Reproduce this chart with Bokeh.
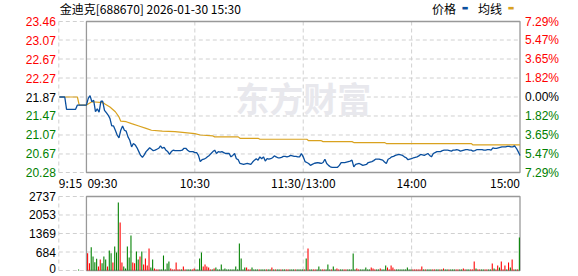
from bokeh.plotting import figure
from bokeh.models import Range1d, Label, ColumnDataSource
from bokeh.embed import file_html
from bokeh.resources import INLINE

TITLE = "金迪克[688670] 2026-01-30 15:30"
PREV_CLOSE = 21.87
PRICE_TICKS = [23.46, 23.07, 22.67, 22.27, 21.87, 21.47, 21.07, 20.67, 20.28]
PCT_LABELS = ["7.29%", "5.47%", "3.65%", "1.82%", "0.00%", "1.82%", "3.65%", "5.47%", "7.29%"]
VOL_TICKS = [0, 684, 1369, 2053, 2737]
X_LABELS = ["9:15", "09:30", "10:30", "11:30/13:00", "14:00", "15:00"]
X_LABEL_MIN = [-15.3, 0, 60, 120, 180, 240]
X_GRID_MIN = [-15.3, 60, 120, 180]

# pre-market 9:15-9:29 (minutes before 9:30)
PRE_MIN = [-15, -14, -13, -12, -11, -10, -9, -8, -7, -6, -5, -4, -3, -2, -1]
PRE_PRICE = [21.87, 21.87, 21.87, 21.87, 21.61, 21.61, 21.61, 21.61, 21.61, 21.61,
             21.70, 21.70, 21.70, 21.70, 21.70]
PRE_AVG = [21.87, 21.87, 21.87, 21.87, 21.87, 21.87, 21.87, 21.87, 21.87, 21.87,
           21.87, 21.70, 21.70, 21.70, 21.70]
PRE_VOL_MIN = [-5]
PRE_VOL = [40]
PRE_VOL_DIR = "g"

# trading minutes 0..240 (9:30 .. 11:30 | 13:00 .. 15:00)
PRICE = [
    21.70, 21.84, 21.90, 21.77, 21.80, 21.56, 21.62, 21.55, 21.78, 21.78,
    21.59, 21.54, 21.49, 21.42, 21.26, 21.26, 21.17, 21.07, 21.01, 21.17,
    21.26, 21.17, 21.15, 21.03, 20.96, 20.82, 20.89, 20.86, 20.80, 20.72,
    20.64, 20.60, 20.65, 20.72, 20.76, 20.80, 20.77, 20.74, 20.75, 20.77,
    20.79, 20.84, 20.79, 20.81, 20.75, 20.72, 20.66, 20.72, 20.75, 20.74,
    20.74, 20.74, 20.74, 20.75, 20.79, 20.79, 20.75, 20.72, 20.72, 20.72,
    20.70, 20.70, 20.64, 20.51, 20.55, 20.56, 20.58, 20.61, 20.64, 20.68,
    20.72, 20.75, 20.68, 20.72, 20.71, 20.72, 20.70, 20.68, 20.68, 20.68,
    20.61, 20.64, 20.68, 20.57, 20.55, 20.47, 20.46, 20.45, 20.46, 20.47,
    20.46, 20.45, 20.50, 20.54, 20.57, 20.54, 20.61, 20.57, 20.61, 20.52,
    20.57, 20.56, 20.57, 20.59, 20.63, 20.61, 20.59, 20.59, 20.60, 20.62,
    20.62, 20.61, 20.62, 20.64, 20.63, 20.62, 20.62, 20.61, 20.61, 20.68,
    20.61, 20.51, 20.49, 20.47, 20.43, 20.45, 20.47, 20.48, 20.49, 20.48,
    20.47, 20.49, 20.56, 20.47, 20.43, 20.40, 20.39, 20.39, 20.39, 20.39,
    20.43, 20.49, 20.49, 20.49, 20.50, 20.51, 20.52, 20.54, 20.40, 20.45,
    20.46, 20.47, 20.45, 20.43, 20.44, 20.45, 20.49, 20.50, 20.51, 20.53,
    20.56, 20.56, 20.56, 20.55, 20.54, 20.50, 20.47, 20.56, 20.58, 20.61,
    20.62, 20.64, 20.65, 20.66, 20.65, 20.64, 20.61, 20.59, 20.55, 20.56,
    20.57, 20.59, 20.60, 20.61, 20.63, 20.66, 20.65, 20.64, 20.66, 20.68,
    20.64, 20.61, 20.68, 20.70, 20.72, 20.72, 20.72, 20.74, 20.75, 20.75,
    20.75, 20.74, 20.73, 20.75, 20.75, 20.76, 20.75, 20.73, 20.74, 20.75,
    20.76, 20.76, 20.75, 20.75, 20.73, 20.74, 20.76, 20.76, 20.76, 20.76,
    20.75, 20.75, 20.76, 20.76, 20.75, 20.80, 20.79, 20.79, 20.80, 20.81,
    20.82, 20.82, 20.82, 20.83, 20.83, 20.82, 20.82, 20.84, 20.79, 20.72,
    20.64,
]

AVG_MIN = [0, 3, 9, 10, 13, 16, 18, 19, 22, 25, 29, 33, 36, 42, 49, 60, 63, 70, 71,
           84, 85, 95, 96, 122, 123, 130, 131, 147, 148, 165, 166, 213, 214, 240]
AVG_VAL = [21.70, 21.77, 21.75, 21.73, 21.66, 21.56, 21.45, 21.36, 21.35, 21.31,
           21.26, 21.21, 21.17, 21.15, 21.14, 21.10, 21.07, 21.05, 21.03, 21.03,
           21.00, 21.00, 20.98, 20.98, 20.95, 20.95, 20.93, 20.93, 20.91, 20.91,
           20.89, 20.89, 20.86, 20.86]

# per-minute volume, bars 1..240
VOLUME = [
    640, 270, 863, 518, 308, 432, 148, 407, 270, 518,
    407, 148, 740, 640, 296, 888, 666, 2516, 1776, 296,
    148, 74, 888, 481, 1295, 296, 270, 703, 407, 518,
    703, 222, 444, 185, 814, 111, 407, 74, 37, 37,
    37, 37, 555, 37, 259, 333, 74, 37, 37, 296,
    37, 37, 37, 148, 37, 37, 37, 37, 37, 74,
    37, 37, 444, 666, 148, 222, 148, 111, 37, 37,
    74, 111, 37, 37, 222, 37, 74, 37, 37, 37,
    37, 37, 148, 37, 999, 444, 37, 111, 111, 37,
    37, 111, 37, 37, 37, 37, 37, 37, 37, 37,
    37, 37, 111, 37, 37, 37, 37, 37, 37, 37,
    37, 37, 37, 37, 37, 37, 37, 37, 37, 37,
    37, 444, 814, 37, 37, 37, 37, 37, 148, 37,
    37, 37, 37, 222, 37, 37, 148, 37, 74, 37,
    37, 37, 37, 37, 37, 37, 37, 629, 37, 74,
    37, 37, 37, 37, 111, 37, 37, 111, 74, 37,
    37, 37, 74, 37, 37, 185, 111, 37, 185, 111,
    37, 37, 37, 37, 37, 37, 37, 111, 37, 37,
    37, 37, 37, 37, 37, 148, 37, 37, 37, 37,
    37, 37, 37, 37, 37, 37, 37, 74, 37, 37,
    37, 37, 37, 37, 37, 37, 37, 37, 74, 37,
    37, 37, 37, 37, 333, 74, 37, 37, 37, 37,
    37, 37, 37, 37, 259, 74, 37, 185, 111, 333,
    37, 185, 37, 296, 111, 407, 37, 37, 37, 1221,
]
VOL_DIR = ("rrggggrrgg" "grggrgggrr" "gggggrrggr" "grrrrggrrr" "ggggggrrrr"
           "rrgrrgggrr" "ggggrrrrrg" "rggggggggg" "ggggggggrr" "rggggrgggr"
           "ggrgrggrgg" "rrgggrgggg" "rgrggrrggg" "rrgggrggrr" "ggrrgggggr"
           "rggggggrrr" "ggrgggrrrr" "rggggggggg" "rrrrrrgrgg" "grrggrgrgg"
           "rgggrrggrr" "ggrrrgrrgg" "rrggrgrrgr" "rrgrgrrgrg")

# ---------------- style / layout ----------------
BLUE = "#0a4f9e"
GOLD = "#d9a21f"
RED = "#ff0000"
GREEN = "#008000"
GRID = "#d0d0d0"
BORDER = "#999999"
NUM_FONT = "Liberation Sans"
CJK_FONT = "Noto Sans CJK SC"

W, H = 578, 276
PANEL_L, PANEL_R = 58.3, 519.5          # panel left / right in pixels
PRICE_T, PRICE_B = 21, 172              # price panel top / bottom in pixels
VOL_T, VOL_B = 196, 270                 # volume panel top / bottom in pixels

XMIN, XMAX = X_LABEL_MIN[0], X_LABEL_MIN[-1]
YMIN, YMAX = PRICE_TICKS[-1], PRICE_TICKS[0]
VMAX = VOL_TICKS[-1]
BAR_SHIFT = 0.65

kx = (XMAX - XMIN) / (PANEL_R - PANEL_L)
ky = (YMAX - YMIN) / (PRICE_B - PRICE_T)
kv = VMAX / (VOL_B - VOL_T)
x_range = Range1d(XMIN - PANEL_L * kx, XMAX + (W - PANEL_R) * kx)
y_range = Range1d(YMIN - (H - PRICE_B) * ky, YMAX + PRICE_T * ky)
v_range = Range1d(0 - (H - VOL_B) * kv, VMAX + VOL_T * kv)

p = figure(width=W, height=H, x_range=x_range, y_range=y_range,
           output_backend="svg", toolbar_location=None,
           min_border=0, min_border_left=0, min_border_right=0,
           min_border_top=0, min_border_bottom=0)
p.extra_y_ranges = {"vol": v_range}
p.xaxis.visible = False
p.yaxis.visible = False
p.xgrid.visible = False
p.ygrid.visible = False
p.outline_line_color = None
p.background_fill_color = "white"
p.border_fill_color = "white"


def tick_color(val):
    if val > PREV_CLOSE:
        return RED
    if val < PREV_CLOSE:
        return GREEN
    return "#000000"


def label(x, y, text, align="left", color="#000000", font=NUM_FONT, size="12px",
          dy=0.0, dx=0.0, rng="default", **kw):
    p.add_layout(Label(x=x, y=y, x_offset=dx, y_offset=dy, text=text,
                       text_align=align, text_baseline="middle", text_font=font,
                       text_font_size=size, text_color=color, y_range_name=rng, **kw))


# grids
p.segment(x0=[XMIN] * len(PRICE_TICKS), x1=[XMAX] * len(PRICE_TICKS),
          y0=PRICE_TICKS, y1=PRICE_TICKS, line_color=GRID, line_dash="4 3")
p.segment(x0=X_GRID_MIN, x1=X_GRID_MIN, y0=[YMIN] * len(X_GRID_MIN),
          y1=[YMAX] * len(X_GRID_MIN), line_color=GRID, line_dash="4 3")
p.segment(x0=[XMIN] * len(VOL_TICKS), x1=[XMAX] * len(VOL_TICKS),
          y0=VOL_TICKS, y1=VOL_TICKS, line_color=GRID, line_dash="4 3",
          y_range_name="vol")
p.segment(x0=X_GRID_MIN, x1=X_GRID_MIN, y0=[0] * len(X_GRID_MIN),
          y1=[VMAX] * len(X_GRID_MIN), line_color=GRID, line_dash="4 3",
          y_range_name="vol")

# session borders
p.quad(left=[0], right=[XMAX], bottom=[YMIN], top=[YMAX], fill_alpha=0,
       line_color=BORDER, line_width=1.3)
p.quad(left=[0], right=[XMAX], bottom=[0], top=[VMAX], fill_alpha=0,
       line_color=BORDER, line_width=1.3, y_range_name="vol")

# watermark
label(120, PREV_CLOSE, "东方财富", align="center", color="#e8e8ed", font=CJK_FONT,
      size="34px", text_font_style="bold")

# price & average lines
all_min = PRE_MIN + list(range(len(PRICE)))
p.line(PRE_MIN + AVG_MIN, PRE_AVG + AVG_VAL, line_color=GOLD, line_width=1.2)
p.line(all_min, PRE_PRICE + PRICE, line_color=BLUE, line_width=1.3)

# volume bars
bar_x = [m + BAR_SHIFT for m in PRE_VOL_MIN] + [i + BAR_SHIFT for i in range(len(VOLUME))]
bar_top = PRE_VOL + VOLUME
bar_col = [RED if d == "r" else GREEN for d in PRE_VOL_DIR + VOL_DIR]
src = ColumnDataSource(dict(x=bar_x, top=bar_top, color=bar_col))
p.vbar(x="x", top="top", bottom=0, width=0.6, fill_color="color", line_color=None,
       source=src, y_range_name="vol")

# tick labels
for t, pct in zip(PRICE_TICKS, PCT_LABELS):
    c = tick_color(t)
    label(XMIN, t, f"{t:.2f}", align="right", color=c, dx=-3)
    label(XMAX, t, pct, align="left", color=c, dx=5)
for t in VOL_TICKS:
    label(XMIN, t, str(t), align="right", dx=-3, rng="vol", dy=(2.5 if t == 0 else 0))

aligns = ["left", "left", "center", "center", "center", "right"]
for xm, lab, al in zip(X_LABEL_MIN, X_LABELS, aligns):
    label(xm, YMIN, lab, align=al, font=CJK_FONT, dy=-10, dx=(1 if xm == 0 else 0))

# title & legend
label(XMIN, YMAX, TITLE, font=CJK_FONT, dy=13, dx=1)
for lab, col, off_t, off_c in [("价格", BLUE, -88, -55), ("均线", GOLD, -42, -9)]:
    label(XMAX, YMAX, lab, font=CJK_FONT, dy=13, dx=off_t)
    label(XMAX, YMAX, "▬", align="center", color=col, font="DejaVu Sans",
          size="7px", dy=14, dx=off_c)

open("out.html", "w").write(file_html(p, INLINE))
